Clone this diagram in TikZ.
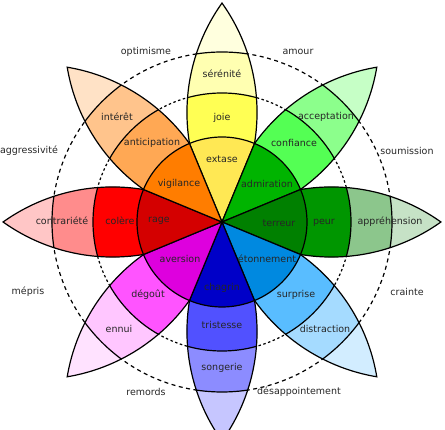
\documentclass[tikz,border=0pt]{standalone}
\usepackage{fontspec}
\setmainfont{DejaVu Sans}
\usepackage{tikz}
\definecolor{jA}{HTML}{FFE854}\definecolor{jB}{HTML}{FFFF54}\definecolor{jC}{HTML}{FFFFB1}\definecolor{jD}{HTML}{FFFFDE}
\definecolor{tA}{HTML}{00B400}\definecolor{tB}{HTML}{54FF54}\definecolor{tC}{HTML}{8CFF8C}\definecolor{tD}{HTML}{C6FFC6}
\definecolor{fA}{HTML}{008000}\definecolor{fB}{HTML}{009600}\definecolor{fC}{HTML}{8CC68C}\definecolor{fD}{HTML}{C6E2C6}
\definecolor{sA}{HTML}{0089E0}\definecolor{sB}{HTML}{59BDFF}\definecolor{sC}{HTML}{A5DBFF}\definecolor{sD}{HTML}{D2EDFF}
\definecolor{gA}{HTML}{0000C8}\definecolor{gB}{HTML}{5151FF}\definecolor{gC}{HTML}{8C8CFF}\definecolor{gD}{HTML}{C6C6FF}
\definecolor{dA}{HTML}{DE00DE}\definecolor{dB}{HTML}{FF54FF}\definecolor{dC}{HTML}{FFC6FF}\definecolor{dD}{HTML}{FFE2FF}
\definecolor{aA}{HTML}{D40000}\definecolor{aB}{HTML}{FF0000}\definecolor{aC}{HTML}{FF8C8C}\definecolor{aD}{HTML}{FFC6C6}
\definecolor{vA}{HTML}{FF7D00}\definecolor{vB}{HTML}{FFA854}\definecolor{vC}{HTML}{FFC48C}\definecolor{vD}{HTML}{FFE2C6}
\tikzset{
	edge/.style={line width=1.2pt, black},
	lbl/.style={font=\fontsize{9.5}{11}\selectfont, text=black!85, inner sep=0pt},
}
\newcommand{\petal}{(0,0) arc[start angle=125.5, end angle=54.5, radius=188.5] arc[start angle=-54.5, end angle=-125.5, radius=188.5] -- cycle}

\begin{document}
\begin{tikzpicture}[x=1pt, y=1pt]
		\useasboundingbox (-222,-208) rectangle (223,222);
		%%  dashed rings  %%%%%%%%
		\draw[line width=1.2pt, dash pattern=on 2.5pt off 2.5pt] (0,0) circle[radius=129];
		\draw[line width=1.2pt, dash pattern=on 4pt off 3.5pt] (0,0) circle[radius=170];
		%%  petals  %%%%%%%%
		\foreach \ang/\tip/\outr/\midd in {90/jD/jC/jB, 45/tD/tC/tB, 0/fD/fC/fB, -45/sD/sC/sB, -90/gD/gC/gB, -135/dD/dC/dB, 180/aD/aC/aB, 135/vD/vC/vB}{
			\begin{scope}[rotate=\ang]
				\begin{scope}
					\clip \petal;
					\fill[\tip] (0,0) circle[radius=225];
					\fill[\outr] (0,0) circle[radius=170];
					\fill[\midd] (0,0) circle[radius=129];
					\draw[edge] (0,0) circle[radius=129] (0,0) circle[radius=170];
				\end{scope}
				\draw[edge] \petal;
			\end{scope}
		}
		%%  core  %%%%%%%%
		\foreach \ang/\col in {90/jA, 45/tA, 0/fA, -45/sA, -90/gA, -135/dA, 180/aA, 135/vA}{
			\filldraw[edge, fill=\col] (0,0) -- (\ang-22.5:85) arc[start angle=\ang-22.5, end angle=\ang+22.5, radius=85] -- cycle;
		}
		%%  labels  %%%%%%%%
		\node[lbl] (extase) at (0,63) {extase};
		\node[lbl] (vigilance) at (-43,38) {vigilance};
		\node[lbl] (admiration) at (45,38) {admiration};
		\node[lbl] (rage) at (-63,1) {rage};
		\node[lbl] (terreur) at (57,-1) {terreur};
		\node[lbl] (aversion) at (-42,-37) {aversion};
		\node[lbl] (etonnement) at (45,-37) {étonnement};
		\node[lbl] (chagrin) at (0,-66) {chagrin};
		\node[lbl] (joie) at (0,104) {joie};
		\node[lbl] (anticipation) at (-70,79) {anticipation};
		\node[lbl] (confiance) at (72,79) {confiance};
		\node[lbl] (colere) at (-102,1) {colère};
		\node[lbl] (peur) at (102,-1) {peur};
		\node[lbl] (degout) at (-74,-73) {dégoût};
		\node[lbl] (surprise) at (74,-73) {surprise};
		\node[lbl] (tristesse) at (0,-103) {tristesse};
		\node[lbl] (serenite) at (0,148) {sérénité};
		\node[lbl] (interet) at (-105,105) {intérêt};
		\node[lbl] (acceptation) at (104,105) {acceptation};
		\node[lbl] (contrariete) at (-160,1) {contrariété};
		\node[lbl] (apprehension) at (168,0) {appréhension};
		\node[lbl] (ennui) at (-103,-107) {ennui};
		\node[lbl] (distraction) at (103,-107) {distraction};
		\node[lbl] (songerie) at (0,-146) {songerie};
		%%  dyads  %%%%%%%%
		\node[lbl] (optimisme) at (-76,170) {optimisme};
		\node[lbl] (amour) at (76,170) {amour};
		\node[lbl] (soumission) at (185,71) {soumission};
		\node[lbl] (aggressivite) at (-193,71) {aggressivité};
		\node[lbl] (mepris) at (-194,-70) {mépris};
		\node[lbl] (crainte) at (185,-70) {crainte};
		\node[lbl] (remords) at (-76,-170) {remords};
		\node[lbl] (desappointement) at (77,-170) {désappointement};
		%%%%%%%%%%%%%%%
\end{tikzpicture}
\end{document}
